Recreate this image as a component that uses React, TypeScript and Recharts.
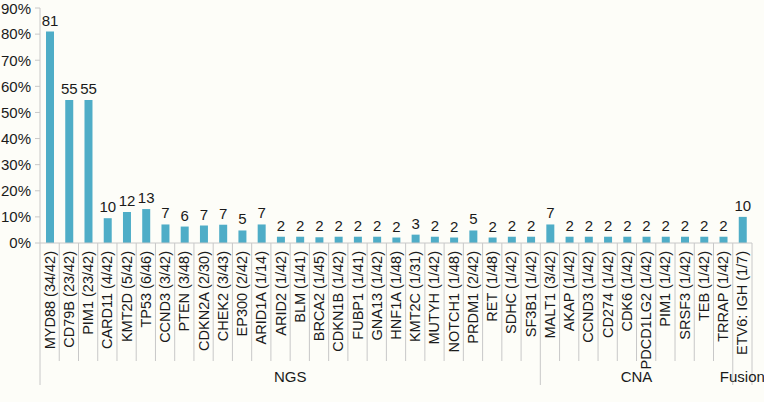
import React from 'react';
import { BarChart, Bar, XAxis, YAxis, LabelList } from 'recharts';

// categories, grouped by assay
const genes = [
  'MYD88 (34/42)', 'CD79B (23/42)', 'PIM1 (23/42)', 'CARD11 (4/42)', 'KMT2D (5/42)',
  'TP53 (6/46)', 'CCND3 (3/42)', 'PTEN (3/48)', 'CDKN2A (2/30)', 'CHEK2 (3/43)',
  'EP300 (2/42)', 'ARID1A (1/14)', 'ARID2 (1/42)', 'BLM (1/41)', 'BRCA2 (1/45)',
  'CDKN1B (1/42)', 'FUBP1 (1/41)', 'GNA13 (1/42)', 'HNF1A (1/48)', 'KMT2C (1/31)',
  'MUTYH (1/42)', 'NOTCH1 (1/48)', 'PRDM1 (2/42)', 'RET (1/48)', 'SDHC (1/42)',
  'SF3B1 (1/42)',
  'MALT1 (3/42)', 'AKAP (1/42)', 'CCND3 (1/42)', 'CD274 (1/42)', 'CDK6 (1/42)',
  'PDCD1LG2 (1/42)', 'PIM1 (1/42)', 'SRSF3 (1/42)', 'TEB (1/42)', 'TRRAP (1/42)',
  'ETV6: IGH (1/7)',
];

// percent of patients (bar heights)
const percents = [
  81, 54.8, 54.8, 9.5, 11.9, 13, 7.1, 6.3, 6.7, 7, 4.8, 7.1, 2.4, 2.4, 2.2,
  2.4, 2.4, 2.4, 2.1, 3.2, 2.4, 2.1, 4.8, 2.1, 2.4, 2.4,
  7.1, 2.4, 2.4, 2.4, 2.4, 2.4, 2.4, 2.4, 2.4, 2.4,
  10,
];

// labels printed above the bars
const barLabels = [
  '81', '55', '55', '10', '12', '13', '7', '6', '7', '7', '5', '7', '2', '2', '2',
  '2', '2', '2', '2', '3', '2', '2', '5', '2', '2', '2',
  '7', '2', '2', '2', '2', '2', '2', '2', '2', '2',
  '10',
];

const groupNames = ['NGS', 'CNA', 'Fusion'];
const groupSizes = [26, 10, 1];

const yTicks = [0, 10, 20, 30, 40, 50, 60, 70, 80, 90];

const W = 764;
const H = 402;
const M = { top: 8, right: 12, left: 0, bottom: 0 };
const Y_AXIS_W = 40;
const BAND = (W - M.right - Y_AXIS_W) / genes.length;
const FONT = '"Liberation Sans", Arial, Helvetica, sans-serif';
const GRID = '#c8c8c8';

const groupStarts = groupSizes.map((_, i) => groupSizes.slice(0, i).reduce((a, b) => a + b, 0));

const data = genes.map((name, i) => ({ name, value: percents[i], label: barLabels[i] }));

const CategoryTick = (props: any) => {
  const { x, y, payload } = props;
  const i = payload.index;
  const left = x - BAND / 2;
  const gi = groupStarts.indexOf(i);
  const isLast = i === genes.length - 1;
  return (
    <g>
      <line x1={left} y1={y} x2={left} y2={gi >= 0 ? y + 142 : y + 118} stroke={GRID} />
      {isLast && <line x1={left + BAND} y1={y} x2={left + BAND} y2={y + 142} stroke={GRID} />}
      <text
        transform={`translate(${x + 5}, ${y + 8}) rotate(-90)`}
        textAnchor="end"
        fontSize={14.5}
        fontFamily={FONT}
        fill="#1a1a1a"
      >
        {payload.value}
      </text>
      {gi >= 0 && (
        <text
          x={left + (groupSizes[gi] * BAND) / 2}
          y={y + 139}
          textAnchor="middle"
          fontSize={15}
          fontFamily={FONT}
          fill="#1a1a1a"
        >
          {groupNames[gi]}
        </text>
      )}
    </g>
  );
};

export default function App() {
  return (
    <div style={{ position: 'absolute', left: 0, top: 0, width: W, height: H, background: '#fdfdf8' }}>
      <BarChart width={W} height={H} data={data} margin={M}>
        <XAxis
          dataKey="name"
          interval={0}
          height={159}
          tickLine={false}
          tickSize={0}
          tickMargin={0}
          axisLine={{ stroke: GRID }}
          tick={<CategoryTick />}
        />
        <YAxis
          width={Y_AXIS_W}
          domain={[0, 90]}
          ticks={yTicks}
          tickFormatter={(v) => `${v}%`}
          axisLine={{ stroke: GRID }}
          tickLine={{ stroke: GRID }}
          tickSize={5}
          tickMargin={4}
          tick={{ fontSize: 15, fontFamily: FONT, fill: '#1a1a1a' }}
        />
        <Bar dataKey="value" fill="#4fadc7" barSize={8} isAnimationActive={false}>
          <LabelList dataKey="label" position="top" offset={6} fontSize={15} fontFamily={FONT} fill="#1a1a1a" />
        </Bar>
      </BarChart>
    </div>
  );
}
